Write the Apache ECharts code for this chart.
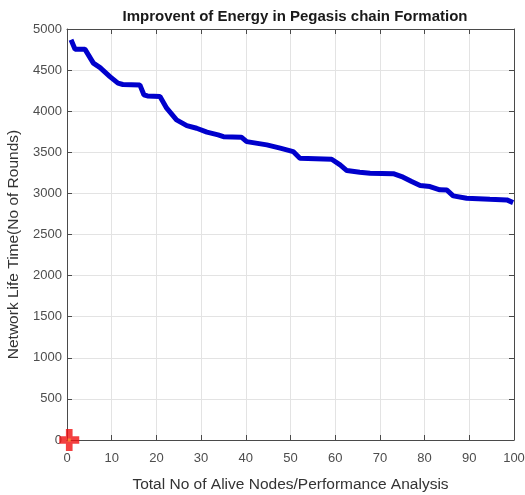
<!DOCTYPE html>
<html>
<head>
<meta charset="utf-8">
<script src="https://cdn.jsdelivr.net/npm/echarts@6/dist/echarts.min.js"></script>
<style>html,body{margin:0;padding:0;background:#fff}#c{width:525px;height:495px}</style>
</head>
<body>
<div id="c"></div>
<script>
const titleText = 'Improvent of Energy in Pegasis chain Formation';
const xName = 'Total No of Alive Nodes/Performance Analysis';
const yName = 'Network Life Time(No of Rounds)';
const xTicks = [0, 10, 20, 30, 40, 50, 60, 70, 80, 90, 100];
const yTicks = [0, 500, 1000, 1500, 2000, 2500, 3000, 3500, 4000, 4500, 5000];
const nodes = [0.9, 1.8, 4.0, 5.9, 7.4, 9.6, 11.4, 12.5, 16.3, 17.2, 18.0, 20.8, 22.3, 24.5, 26.8, 29.0, 31.3, 33.8, 35.0, 39.0, 40.2, 44.7, 47.7, 50.6, 52.1, 59.2, 61.1, 62.6, 65.5, 67.8, 73.0, 75.2, 77.1, 79.0, 81.2, 83.4, 85.0, 86.4, 89.4, 94.6, 98.4, 99.8];
const rounds = [4868, 4755, 4755, 4585, 4530, 4421, 4341, 4325, 4320, 4200, 4186, 4180, 4037, 3894, 3825, 3793, 3745, 3712, 3690, 3684, 3630, 3590, 3550, 3509, 3428, 3416, 3347, 3278, 3258, 3245, 3240, 3197, 3144, 3095, 3083, 3043, 3040, 2970, 2941, 2929, 2921, 2888];
const markerPoint = [0.5, 0];

const chart = echarts.init(document.getElementById('c'), null, {renderer: 'canvas'});
const font = 'Liberation Sans, Arial, sans-serif';
const axisCol = '#4a4a4a';
const xMin = xTicks[0], xMax = xTicks[xTicks.length - 1], xInt = xTicks[1] - xTicks[0];
const yMin = yTicks[0], yMax = yTicks[yTicks.length - 1], yInt = yTicks[1] - yTicks[0];

chart.setOption({
  animation: false,
  backgroundColor: '#fff',
  title: {
    text: titleText, left: 290, top: 4, textAlign: 'center',
    textStyle: {fontFamily: font, fontSize: 15, fontWeight: 'bold', color: '#1a1a1a'}
  },
  grid: {left: 67, right: 11, top: 29, bottom: 55, show: false, containLabel: false, outerBoundsMode: 'none'},
  xAxis: [{
    type: 'value', min: xMin, max: xMax, interval: xInt, position: 'bottom',
    name: xName, nameLocation: 'middle', nameGap: 37,
    nameTextStyle: {fontFamily: font, fontSize: 15.5, color: '#333'},
    axisLine: {show: true, onZero: false, lineStyle: {color: axisCol, width: 1}},
    axisTick: {show: true, inside: true, length: 5, lineStyle: {color: axisCol}},
    axisLabel: {fontFamily: font, fontSize: 13, color: '#4d4d4d', margin: 12, formatter: v => String(v)},
    splitLine: {show: true, lineStyle: {color: '#e3e3e3', width: 1}}
  }, {
    type: 'value', min: xMin, max: xMax, interval: xInt, position: 'top',
    axisLine: {show: true, onZero: false, lineStyle: {color: axisCol, width: 1}},
    axisTick: {show: true, inside: true, length: 5, lineStyle: {color: axisCol}},
    axisLabel: {show: false}, splitLine: {show: false}
  }],
  yAxis: [{
    type: 'value', min: yMin, max: yMax, interval: yInt, position: 'left',
    name: yName, nameLocation: 'middle', nameGap: 41,
    nameTextStyle: {fontFamily: font, fontSize: 15.5, color: '#333', padding: [0, 20, 0, 0]},
    axisLine: {show: true, onZero: false, lineStyle: {color: axisCol, width: 1}},
    axisTick: {show: true, inside: true, length: 5, lineStyle: {color: axisCol}},
    axisLabel: {fontFamily: font, fontSize: 13, color: '#4d4d4d', margin: 5, formatter: v => String(v)},
    splitLine: {show: true, lineStyle: {color: '#e3e3e3', width: 1}}
  }, {
    type: 'value', min: yMin, max: yMax, interval: yInt, position: 'right',
    axisLine: {show: true, onZero: false, lineStyle: {color: axisCol, width: 1}},
    axisTick: {show: true, inside: true, length: 5, lineStyle: {color: axisCol}},
    axisLabel: {show: false}, splitLine: {show: false}
  }],
  series: [{
    type: 'line', xAxisIndex: 0, yAxisIndex: 0,
    data: nodes.map((x, i) => [x, rounds[i]]),
    showSymbol: false, smooth: false,
    lineStyle: {color: '#0000cc', width: 5},
    z: 3
  }, {
    type: 'scatter', xAxisIndex: 0, yAxisIndex: 0,
    data: [markerPoint], clip: false,
    symbol: 'path://M2,0 L4,0 L4,2 L6,2 L6,4 L4,4 L4,6 L2,6 L2,4 L0,4 L0,2 L2,2 Z',
    symbolSize: [20, 22],
    itemStyle: {color: '#f01010'}, z: 5
  }, {
    type: 'scatter', xAxisIndex: 0, yAxisIndex: 0,
    data: [markerPoint], clip: false,
    symbol: 'rect', symbolSize: 3,
    itemStyle: {color: '#ff9933'}, z: 6
  }]
});
</script>
</body>
</html>
